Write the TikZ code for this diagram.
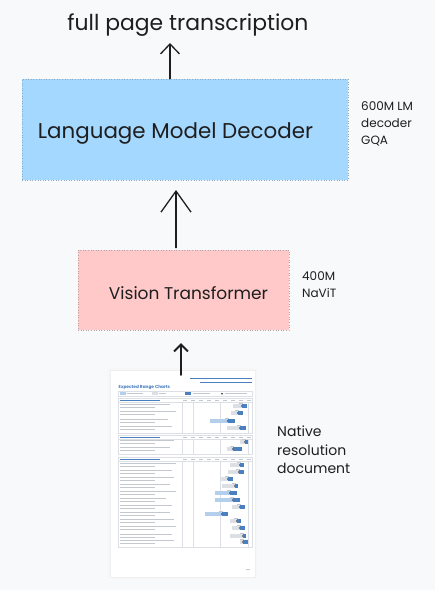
\documentclass[tikz,border=0pt]{standalone}
\usepackage{fontspec}
\setmainfont{Poppins}
\usetikzlibrary{arrows.meta}
\definecolor{bg}{HTML}{F8F9FA}
\definecolor{ink}{HTML}{1E1E1E}
\definecolor{lmblue}{HTML}{A5D8FF}
\definecolor{lmedge}{HTML}{8FA9BF}
\definecolor{vtpink}{HTML}{FFC9C9}
\definecolor{vtedge}{HTML}{B0A4A4}
\definecolor{docblue}{HTML}{4A7FC0}
\definecolor{doclblue}{HTML}{B4CFEC}
\definecolor{docgray}{HTML}{DCE0E5}
\definecolor{doctext}{HTML}{C3C8CE}
\begin{document}
\begin{tikzpicture}[x=1pt,y=-1pt,
  box/.style={draw, dotted, line width=0.6pt, inner sep=0pt},
  lbl/.style={text=ink, inner sep=0pt},
  note/.style={text=ink, inner sep=0pt, anchor=north west, align=left,
    font=\fontsize{12}{17}\selectfont},
  arr/.style={draw=ink, line width=1.3pt, line cap=round},
  txtline/.style={doctext, line width=1pt},
  gridl/.style={docgray, line width=0.35pt},
  secbox/.style={docgray, line width=0.4pt},
]
\fill[bg] (0,0) rectangle (435,590);
\useasboundingbox (0,0) rectangle (435,590);

% title
\node[lbl] (title) at (188,25) {\resizebox{241pt}{!}{full page transcription}};

% language model decoder
\node[box, fill=lmblue, draw=lmedge, minimum width=326pt, minimum height=101pt] (lm) at (185,129.5) {};
\node[lbl] (lmlabel) at (175.5,133) {\resizebox{275pt}{!}{Language Model Decoder}};
\node[note] (lmnote) at (361,101) {600M LM\\decoder\\GQA};

% vision transformer
\node[box, fill=vtpink, draw=vtedge, minimum width=211pt, minimum height=80pt] (vt) at (183.5,290) {};
\node[lbl] (vtlabel) at (188.5,293) {\resizebox{159pt}{!}{Vision Transformer}};
\node[note] (vtnote) at (302,271) {400M\\NaViT};

% document with a soft shadow
\fill[gray!5, rounded corners=3pt] (107,367) rectangle (258,580);
\fill[gray!8, rounded corners=2pt] (108.5,368.5) rectangle (256.5,578.5);
\node[fill=white, draw=gray!12, line width=0.3pt, minimum width=145pt, minimum height=207pt, inner sep=0pt] (doc) at (182.5,473.5) {};
\node[note, font=\fontsize{14}{18.5}\selectfont] (docnote) at (277,426) {Native\\resolution\\document};

% arrows
\coordinate (t1) at (170,43);
\coordinate (t2) at (176,190);
\coordinate (t3) at (181,343);
\draw[arr, -{Straight Barb[length=10pt,width=19pt,line width=1.3pt]}] (lm.north -| t1) -- (t1);
\draw[arr, -{Straight Barb[length=21pt,width=30pt,line width=1.3pt]}] (vt.north -| t2) ++(0,-2) -- (t2);
\draw[arr, line width=2pt, -{Straight Barb[length=7pt,width=14pt,line width=2pt]}] ([yshift=-5pt]doc.north -| t3) -- (t3);

% --- document content ---
\draw[docblue, line width=1pt] (190,378) -- (252,378);
\draw[docblue, line width=1pt] (200,382.5) -- (252,382.5);
\node[anchor=west, inner sep=0pt, text=docblue, font=\fontsize{4.3}{5}\selectfont\bfseries] (doctitle) at (118.5,387.5) {Expected Range Charts};
% legend
\draw[secbox] (118,391) rectangle (252,396.5);
\fill[doclblue] (120,392.3) rectangle (125.5,395.2);
\draw[doctext, line width=0.6pt] (127,393.7) -- (143,393.7);
\fill[docgray] (152,392.3) rectangle (157.5,395.2);
\draw[doctext, line width=0.6pt] (159,393.7) -- (166,393.7);
\fill[docblue] (185,392.1) rectangle (191,395.4);
\draw[doctext, line width=0.6pt] (193,393.7) -- (210,393.7);
\fill[ink] (222,393.7) circle (0.8pt);
\draw[doctext, line width=0.6pt] (225,393.7) -- (247,393.7);

% sections
\foreach \ya/\yb in {398/433, 435/454, 457/547}{
  \draw[secbox] (118,\ya) rectangle (252,\yb);
  \draw[docblue, line width=1pt] (120,\ya+2) -- (160,\ya+2);
  \draw[gridl] (118,\ya+4) -- (252,\ya+4);
  \foreach \xx in {185,193,201,209,217,225,233,241,249}{
    \draw[doctext, line width=0.5pt] (\xx-2,\ya+2) -- (\xx+1.5,\ya+2);
  }
  \draw[gridl] (182,\ya+4) -- (182,\yb);
  \draw[gridl] (193,\ya+4) -- (193,\yb);
  \draw[gridl] (220,\ya+4) -- (220,\yb);
  \draw[gridl] (248,\ya+4) -- (248,\yb);
}

% rows: y / light start / colour of light / dark start / dark end / text length
\foreach \y/\a/\lc/\b/\c/\w in {
  406/233/docgray/242/247/170,
  413/231/docgray/238/243/176,
  421/210/doclblue/228/235/168,
  428/227/docgray/240/246/172,
  442/240/docgray/245/248/174,
  449/227/docgray/233/242/170,
  465/230/docgray/240/244/176,
  472/228/docgray/239/244/172,
  479/220/docgray/228/233/174,
  486/222/docgray/235/238/170,
  493/215/doclblue/230/237/176,
  500/215/doclblue/233/240/166,
  507/232/docgray/240/245/172,
  514/205/doclblue/222/228/170,
  521/230/docgray/237/241/174,
  528/232/docgray/240/245/176,
  536/230/docgray/243/246/172,
  542/240/docgray/243/248/174}{
  \draw[txtline] (120,\y-2) -- (\w,\y-2);
  \draw[txtline] (120,\y+1) -- (155,\y+1);
  \fill[\lc] (\a,\y-1.7) rectangle (\b,\y+1.7);
  \fill[docblue] (\b,\y-1.7) rectangle (\c,\y+1.7);
  \fill[ink] (\b-0.5,\y) circle (0.6pt);
  \draw[doctext, line width=0.5pt] (\b-3,\y-3) -- (\b+1,\y-3);
}
\draw[doctext, line width=0.6pt] (246,569) -- (250,569);
\end{tikzpicture}
\end{document}
